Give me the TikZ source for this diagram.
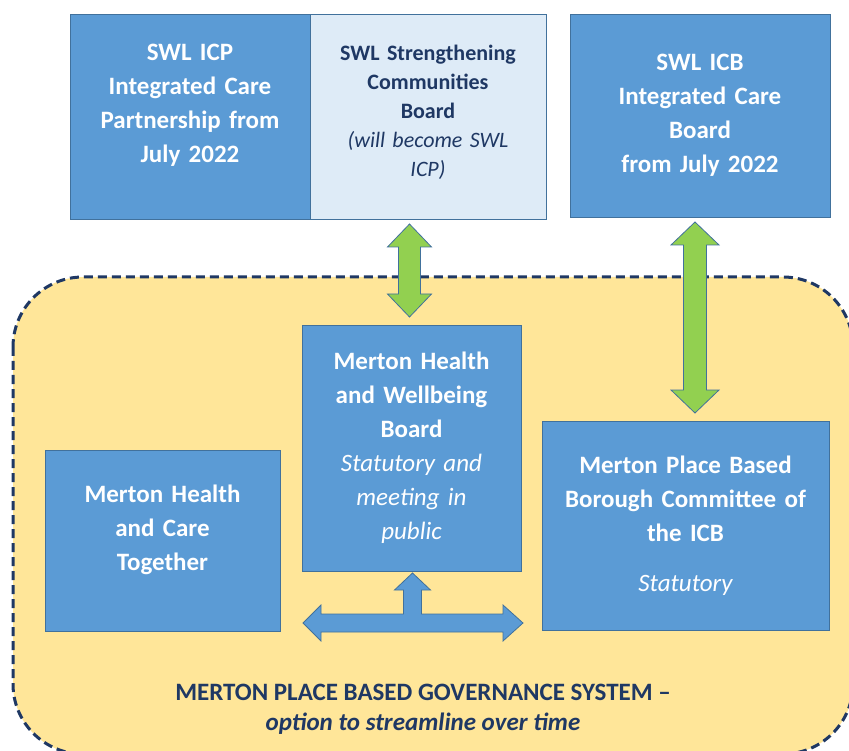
\documentclass[tikz,border=0pt]{standalone}
\usepackage{fontspec}
\setmainfont{Carlito}
\usepackage{xcolor}
\usepackage{tikz}
\usetikzlibrary{positioning, calc}
\definecolor{boxblue}{HTML}{5B9BD5}
\definecolor{boxedge}{HTML}{41719C}
\definecolor{paleblue}{HTML}{DEEBF7}
\definecolor{placeyellow}{HTML}{FFE699}
\definecolor{linkgreen}{HTML}{92D050}
\definecolor{navy}{HTML}{1F3864}
\tikzstyle{board} = [rectangle, draw=boxedge, fill=boxblue, line width=0.8pt, text=white, align=center, inner sep=0pt, outer sep=0pt, font=\fontsize{25}{34}\selectfont\bfseries]
\tikzstyle{paleboard} = [board, fill=paleblue, text=navy, font=\fontsize{22}{29}\selectfont\bfseries]
\tikzstyle{greenlink} = [fill=linkgreen, draw=boxedge, line width=0.8pt, line join=miter]
\tikzstyle{bluelink} = [fill=boxblue, draw=boxedge, line width=0.8pt, line join=miter]
\tikzstyle{placebox} = [fill=placeyellow, draw=navy, line width=3pt, dash pattern=on 9pt off 5pt, rounded corners=70pt]

\begin{document}
\begin{tikzpicture}[x=1pt, y=-1pt]
    \useasboundingbox (0,0) rectangle (849,751);
    \clip (0,0) rectangle (849,751);

    % Place based system
    \draw[placebox] (13,277) rectangle (853,754);
    \node[text=navy, align=center, font=\fontsize{25}{30}\selectfont\bfseries] (govlabel) at (423,709) {MERTON PLACE BASED GOVERNANCE SYSTEM –\\\textit{option to streamline over time}};

    % SWL boards
    \node[board, minimum width=240pt, minimum height=205pt, text width=230pt, anchor=north west] (icp) at (70,14) {SWL ICP\\Integrated Care\\Partnership from\\July 2022\\[-8pt]\mbox{}};
    \node[paleboard, minimum width=236pt, minimum height=205pt, text width=226pt, right=0pt of icp] (scb) {SWL Strengthening\\Communities\\Board\\{\mdseries\itshape (will become SWL\\ICP)}\\[-17pt]\mbox{}};
    \node[board, minimum width=260pt, minimum height=203pt, text width=250pt, right=24pt of scb.north east, anchor=north west] (icb) {SWL ICB\\Integrated Care\\Board\\from July 2022};

    % Merton boards
    \node[board, minimum width=219pt, minimum height=246pt, text width=209pt, anchor=north west] (hwb) at (302,325) {Merton Health\\and Wellbeing\\Board\\{\mdseries\itshape Statutory and\\meeting in\\public}};
    \node[board, minimum width=235pt, minimum height=181pt, text width=225pt, anchor=north west] (mhct) at (45,450) {Merton Health\\and Care\\Together\\[-8pt]\mbox{}};
    \node[board, minimum width=287pt, minimum height=209pt, text width=277pt, anchor=north west] (pbc) at (542,421) {Merton Place Based\\Borough Committee of\\the ICB\\[16pt]{\mdseries\itshape Statutory}};

    % Links
    \draw[greenlink] let \p1 = ($(hwb.north |- scb.south)+(-2pt,0)$), \p2 = (hwb.north) in
        (\x1, \y1-5pt) -- (\x1+22pt, \y1-28pt) -- (\x1+11pt, \y1-28pt) -- (\x1+11pt, \y2+31pt) -- (\x1+22pt, \y2+31pt)
        -- (\x1, \y2+8pt) -- (\x1-22pt, \y2+31pt) -- (\x1-11pt, \y2+31pt) -- (\x1-11pt, \y1-28pt) -- (\x1-22pt, \y1-28pt) -- cycle;
    \draw[greenlink] let \p1 = ($(icb.south)+(-5pt,0)$), \p2 = (pbc.north) in
        (\x1, \y1-5pt) -- (\x1+24pt, \y1-28pt) -- (\x1+11.5pt, \y1-28pt) -- (\x1+11.5pt, \y2+31pt) -- (\x1+24pt, \y2+31pt)
        -- (\x1, \y2+8pt) -- (\x1-24pt, \y2+31pt) -- (\x1-11.5pt, \y2+31pt) -- (\x1-11.5pt, \y1-28pt) -- (\x1-24pt, \y1-28pt) -- cycle;
    \draw[bluelink] let \p1 = (hwb.south), \p2 = (hwb.south west), \p3 = (hwb.south east) in
        (\x1+1pt, \y1-2pt) -- (\x1+19pt, \y1-19pt) -- (\x1+10pt, \y1-19pt) -- (\x1+10pt, \y1-43pt)
        -- (\x3-18pt, \y1-43pt) -- (\x3-18pt, \y1-34pt) -- (\x3+2pt, \y1-52pt) -- (\x3-18pt, \y1-70pt) -- (\x3-18pt, \y1-61pt)
        -- (\x2+19pt, \y1-61pt) -- (\x2+19pt, \y1-70pt) -- (\x2+1pt, \y1-52pt) -- (\x2+19pt, \y1-34pt) -- (\x2+19pt, \y1-43pt)
        -- (\x1-8pt, \y1-43pt) -- (\x1-8pt, \y1-19pt) -- (\x1-17pt, \y1-19pt) -- cycle;

\end{tikzpicture}
\end{document}
